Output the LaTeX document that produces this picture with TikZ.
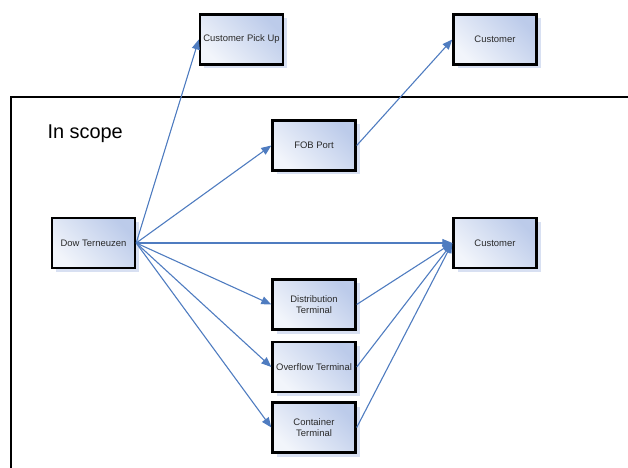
\documentclass[tikz,border=0pt]{standalone}
\usepackage{fontspec}
\setmainfont{Liberation Sans}
\usetikzlibrary{arrows.meta,shadows}
\definecolor{lineblue}{HTML}{4F7CC0}
\definecolor{boxlight}{HTML}{F2F5FB}
\definecolor{boxdark}{HTML}{BCCBEA}
\definecolor{shadowblue}{HTML}{D8E0F2}
\definecolor{txt}{HTML}{2A2A2A}
\begin{document}
\begin{tikzpicture}[x=1bp,y=-1bp,
  boxnode/.style={draw=black, line width=2.4bp, minimum width=83bp, minimum height=50bp,
    inner sep=1bp, align=center, font=\fontsize{9.5}{11.5}\selectfont, text=txt,
    shading=axis, left color=boxlight, right color=boxdark, shading angle=135,
    drop shadow={shadow xshift=4bp, shadow yshift=-4bp, fill=shadowblue, opacity=1}},
  conn/.style={draw=lineblue, line width=1.1bp, -{Triangle[length=10bp,width=8bp]}}]
\useasboundingbox (0,0) rectangle (628,468);
\begin{scope}
\clip (0,0) rectangle (628,468);
\draw[line width=2bp, black] (11,97) rectangle (650,490);
\end{scope}
\node[font=\fontsize{20}{24}\selectfont, anchor=west] (scope) at (44,134) {In scope};

\node[boxnode] (pick) at (241.5,39.5) {Customer Pick Up};
\node[boxnode] (cust1) at (495,39.5) {Customer};
\node[boxnode] (fob) at (314,145.5) {FOB Port};
\node[boxnode] (dow) at (93.5,243) {Dow Terneuzen};
\node[boxnode] (cust2) at (495,243) {Customer};
\node[boxnode] (dist) at (314,304.5) {Distribution\\Terminal};
\node[boxnode] (over) at (314,367) {Overflow Terminal};
\node[boxnode] (cont) at (314,427.5) {Container\\Terminal};

\draw[conn] (dow.east) -- (pick.west);
\draw[conn] (dow.east) -- (fob.west);
\draw[conn] (dow.east) -- (cust2.west);
\draw[conn] (dow.east) -- (dist.west);
\draw[conn] (dow.east) -- (over.west);
\draw[conn] (dow.east) -- (cont.west);
\draw[conn] (fob.east) -- (cust1.west);
\draw[conn] (dist.east) -- (cust2.west);
\draw[conn] (over.east) -- (cust2.west);
\draw[conn] (cont.east) -- (cust2.west);
\end{tikzpicture}
\end{document}
